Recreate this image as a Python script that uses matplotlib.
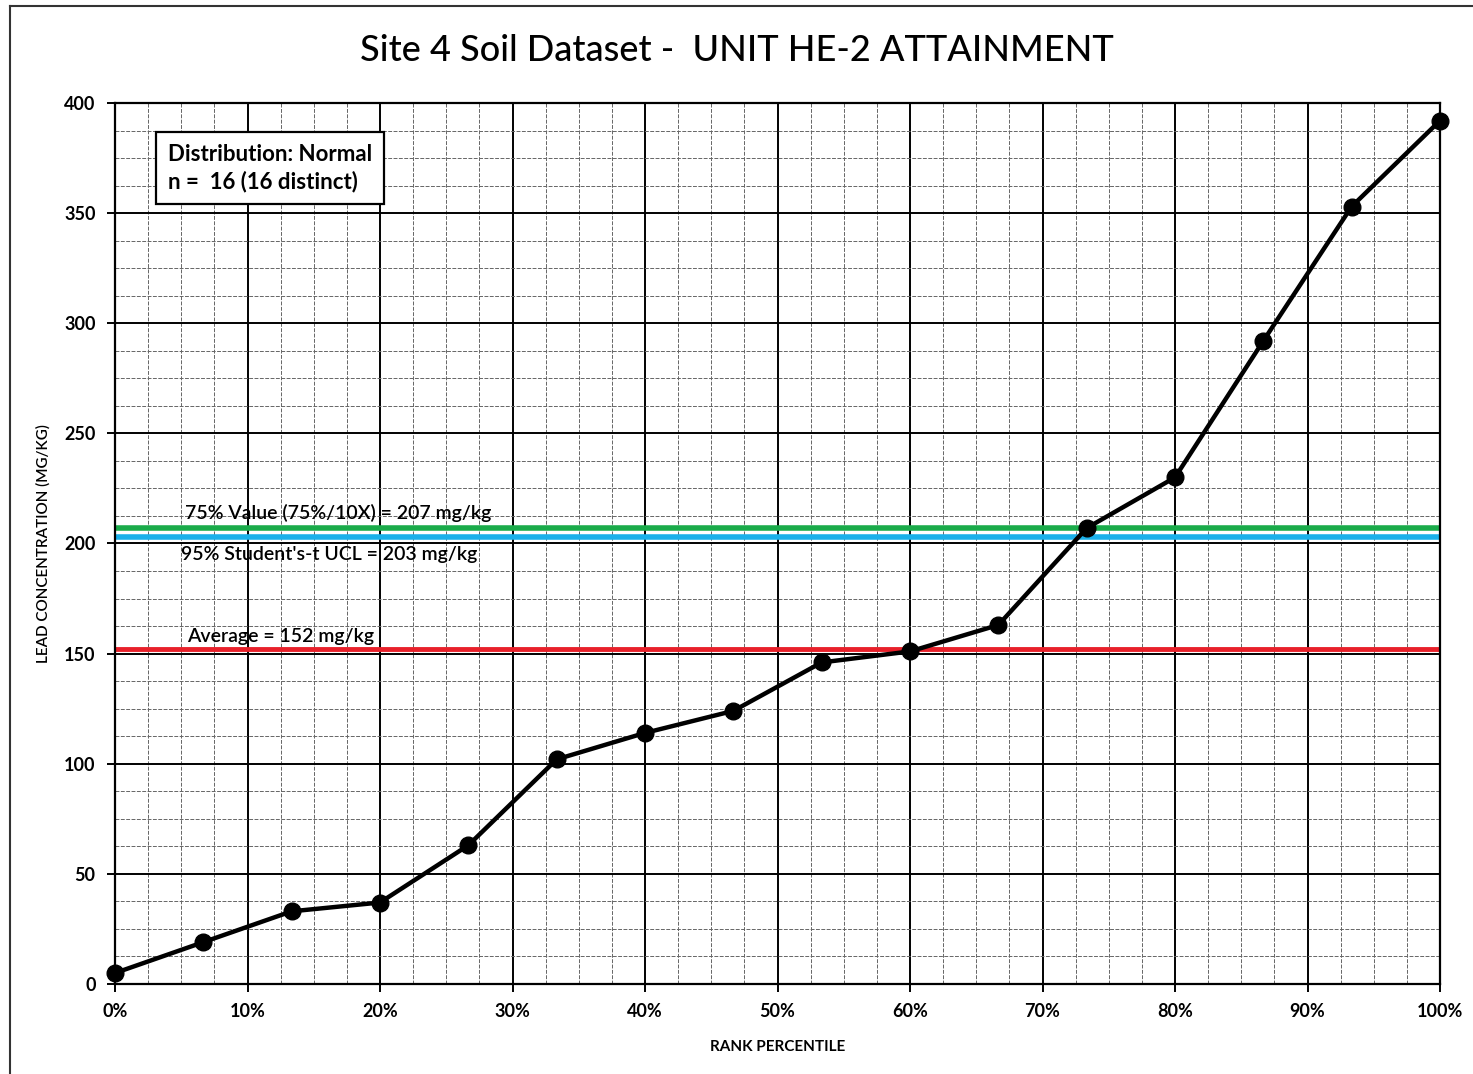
import numpy as np
import matplotlib.pyplot as plt
from matplotlib.ticker import MultipleLocator, PercentFormatter
from matplotlib.lines import Line2D

plt.rcParams['font.family'] = ['Lato', 'DejaVu Sans']

# data
rank = np.arange(16) / 15
lead = [5, 19, 33, 37, 63, 102, 114, 124, 146, 151, 163, 207, 230, 292, 353, 392]

avg = 152
ucl = 203
p75 = 207

fig = plt.figure(figsize=(14.73, 10.74), dpi=100)
ax = fig.add_axes([0.0781, 0.0838, 0.8995, 0.8203])

ax.set_xlim(0, 1)
ax.set_ylim(0, 400)
ax.xaxis.set_major_locator(MultipleLocator(0.1))
ax.xaxis.set_minor_locator(MultipleLocator(0.025))
ax.yaxis.set_major_locator(MultipleLocator(50))
ax.yaxis.set_minor_locator(MultipleLocator(12.5))
ax.xaxis.set_major_formatter(PercentFormatter(1.0, decimals=0))

ax.grid(which='major', color='black', lw=1.4, zorder=0)
ax.grid(which='minor', color='#666666', lw=0.7, ls=(0, (4, 1.5)), zorder=0)
ax.tick_params(which='major', direction='out', length=6, width=1.4, labelsize=13, pad=8)
ax.tick_params(which='minor', length=0)
for lbl in ax.get_xticklabels() + ax.get_yticklabels():
    lbl.set_fontweight('bold')
for s in ax.spines.values():
    s.set_linewidth(1.6)

ax.axhline(p75, color='#1aab4a', lw=4, zorder=2)
ax.axhline(ucl, color='#1ab0ea', lw=4, zorder=2)
ax.axhline(avg, color='#e8202a', lw=3.5, zorder=2)

ax.plot(rank, lead, color='black', lw=3.2, marker='o', ms=12, zorder=3, clip_on=False)

ax.text(0.053, 214, '75% Value (75%/10X) = 207 mg/kg', fontsize=14, fontweight='semibold',
        va='center', zorder=4)
ax.text(0.05, 195, "95% Student's-t UCL = 203 mg/kg", fontsize=14, fontweight='semibold',
        va='center', zorder=4)
ax.text(0.054, 158, 'Average = 152 mg/kg', fontsize=14, fontweight='semibold',
        va='center', zorder=4)

ax.text(0.04, 370.5, 'Distribution: Normal\nn =  16 (16 distinct)', fontsize=16,
        fontweight='bold', va='center', ha='left', linespacing=1.3, zorder=5,
        bbox=dict(boxstyle='square,pad=0.55', fc='white', ec='black', lw=1.6))

ax.set_xlabel('RANK PERCENTILE', fontsize=11, fontweight='bold', labelpad=14)
ax.set_ylabel('LEAD CONCENTRATION (MG/KG)', fontsize=11, fontweight='semibold', labelpad=10)

fig.text(0.5, 0.953, 'Site 4 Soil Dataset -  UNIT HE-2 ATTAINMENT', fontsize=26,
         ha='center', va='center', fontweight='medium')

# outer frame of the chart area
fig.add_artist(Line2D([10 / 1473, 10 / 1473], [0, 1 - 6 / 1074], color='#333333', lw=1.5))
fig.add_artist(Line2D([10 / 1473, 1], [1 - 6 / 1074, 1 - 6 / 1074], color='#333333', lw=1.5))

fig.savefig('out.png', dpi=100)
